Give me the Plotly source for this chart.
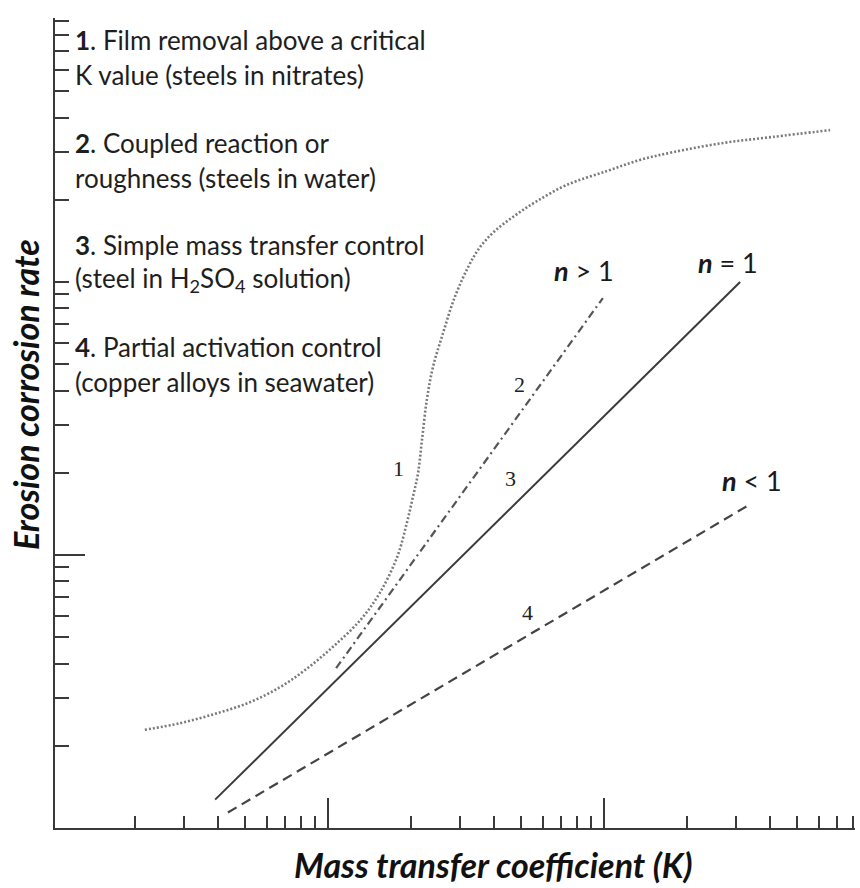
import plotly.graph_objects as go

# ---- data (log-log schematic) ----
curve1_K = [2.17, 2.91, 3.90, 5.22, 6.70, 8.26, 10.4, 13.1, 15.4, 17.8, 19.3, 20.3, 21.2, 21.9,
            22.8, 24.0, 26.1, 28.8, 32.2, 35.5, 40.0, 47.5, 57.2, 73.4, 102.5, 135, 178, 270, 409, 659]
curve1_rate = [2.29, 2.42, 2.62, 2.89, 3.28, 3.79, 4.60, 5.78, 7.26, 9.83, 13.1, 16.3, 20.0, 26.4,
               37.0, 48.8, 65.0, 88.1, 113.5, 134, 153, 175, 198, 227, 255, 280, 299, 323, 340, 360]
curve2_K = [10.7, 99]
curve2_rate = [3.85, 87.3]
curve3_K = [3.9, 311]
curve3_rate = [1.27, 100]
curve4_K = [4.34, 333]
curve4_rate = [1.14, 15.2]

x_major_ticks = [10, 100]
x_minor_ticks = [2, 3, 4, 5, 6, 7, 8, 9, 20, 30, 40, 50, 60, 70, 80, 90,
                 200, 300, 400, 500, 600, 700, 800]
y_major_ticks = [10]
y_minor_ticks = [2, 3, 4, 5, 6, 7, 8, 9, 20, 30, 40, 50, 60, 70, 80, 90, 100,
                 200, 300, 400, 500, 600, 700, 800, 900]

legend_lines = [
    "<b>1</b>. Film removal above a critical",
    "K value (steels in nitrates)",
    "<b>2</b>. Coupled reaction or",
    "roughness (steels in water)",
    "<b>3</b>. Simple mass transfer control",
    "(steel in H<sub>2</sub>SO<sub>4</sub> solution)",
    "<b>4</b>. Partial activation control",
    "(copper alloys in seawater)",
]
legend_y_px = [40, 75, 143, 178, 245, 280, 347, 382]

curve_numbers = ["1", "2", "3", "4"]
curve_number_px = [(398, 468), (519, 384), (510, 479), (527, 612)]
n_labels = ["<b><i>n</i></b> > 1", "<b><i>n</i></b> = 1", "<b><i>n</i></b> < 1"]
n_label_px = [(584, 270), (728, 262), (752, 481)]

# ---- layout geometry ----
W, H = 860, 888
L, R, T, B = 55, 5, 18, 60
PW, PH = W - L - R, H - T - B


def px2paper(px, py):
    return (px - L) / PW, (H - B - py) / PH


fig = go.Figure()
fig.add_trace(go.Scatter(x=curve1_K, y=curve1_rate, mode="lines", line_shape="spline",
                         line=dict(color="#7a7a7a", width=2.6, dash="2px,2px", smoothing=1.0)))
fig.add_trace(go.Scatter(x=curve2_K, y=curve2_rate, mode="lines",
                         line=dict(color="#555555", width=2.2, dash="8px,4px,2px,4px")))
fig.add_trace(go.Scatter(x=curve3_K, y=curve3_rate, mode="lines",
                         line=dict(color="#3a3a3a", width=2)))
fig.add_trace(go.Scatter(x=curve4_K, y=curve4_rate, mode="lines",
                         line=dict(color="#444444", width=2.2, dash="10px,6px")))

annotations = []
for txt, py in zip(legend_lines, legend_y_px):
    x, y = px2paper(73, py)
    annotations.append(dict(text=txt, x=x, y=y, xref="paper", yref="paper",
                            xanchor="left", yanchor="middle", showarrow=False,
                            font=dict(family="Lato", size=26, color="#1e1e1e")))
for txt, (px, py) in zip(curve_numbers, curve_number_px):
    x, y = px2paper(px, py)
    annotations.append(dict(text=txt, x=x, y=y, xref="paper", yref="paper",
                            xanchor="center", yanchor="middle", showarrow=False,
                            font=dict(family="Liberation Serif", size=22, color="#222222")))
for txt, (px, py) in zip(n_labels, n_label_px):
    x, y = px2paper(px, py)
    annotations.append(dict(text=txt, x=x, y=y, xref="paper", yref="paper",
                            xanchor="center", yanchor="middle", showarrow=False,
                            font=dict(family="Lato", size=27, color="#1a1a1a")))
# axis titles
x, y = px2paper(493, 864)
annotations.append(dict(text="<b><i>Mass transfer coefficient (K)</i></b>", x=x, y=y,
                        xref="paper", yref="paper", xanchor="center", yanchor="middle",
                        showarrow=False, font=dict(family="Lato", size=34, color="#111111")))
x, y = px2paper(25, 395)
annotations.append(dict(text="<b><i>Erosion corrosion rate</i></b>", x=x, y=y, textangle=-90,
                        xref="paper", yref="paper", xanchor="center", yanchor="middle",
                        showarrow=False, font=dict(family="Lato", size=34, color="#111111")))

axis_common = dict(type="log", showgrid=False, zeroline=False, showticklabels=False,
                   showline=True, linecolor="#3a3a3a", linewidth=2,
                   ticks="inside", tickcolor="#3a3a3a", tickwidth=1.6, ticklen=30)

fig.update_layout(
    width=W, height=H, margin=dict(l=L, r=R, t=T, b=B),
    paper_bgcolor="white", plot_bgcolor="white", showlegend=False,
    xaxis=dict(**axis_common, range=[0.011, 2.909], tickmode="array", tickvals=x_major_ticks,
               minor=dict(tickvals=x_minor_ticks, ticks="inside", ticklen=12,
                          tickcolor="#3a3a3a", tickwidth=1.6)),
    yaxis=dict(**axis_common, range=[0, 2.967], tickmode="array", tickvals=y_major_ticks,
               minor=dict(tickvals=y_minor_ticks, ticks="inside", ticklen=14,
                          tickcolor="#3a3a3a", tickwidth=1.6)),
    annotations=annotations,
)

fig.write_html("out.html")
